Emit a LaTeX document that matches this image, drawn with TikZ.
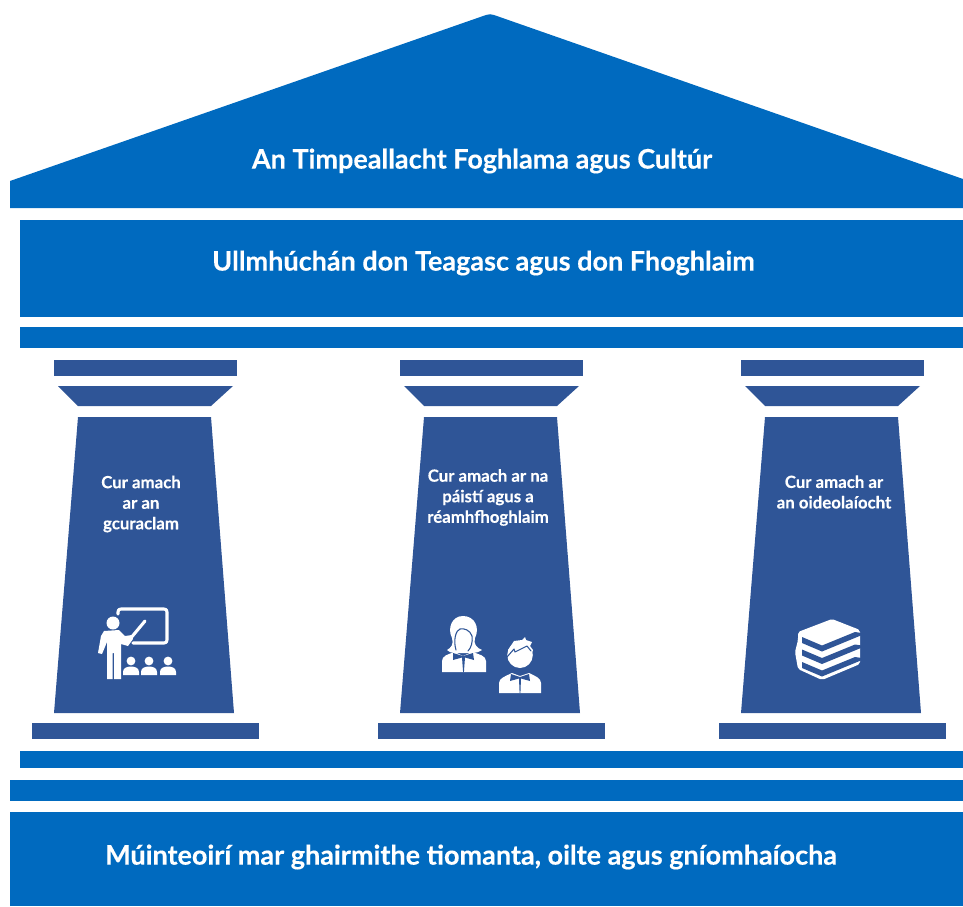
\documentclass[tikz,border=0pt]{standalone}
\usepackage{fontspec}
\setmainfont{Lato}[BoldFont={Lato Bold},BoldFeatures={FakeBold=0.25}]
\definecolor{bandblue}{HTML}{006ABF}
\definecolor{pillarblue}{HTML}{2F5597}
\tikzset{
  x=0.75pt,y=-0.75pt,
  band/.style={fill=bandblue,draw=none},
  pillar/.style={fill=pillarblue,draw=none},
  icon/.style={fill=white,draw=none},
  iconline/.style={draw=white,line width=2.3pt,line cap=round,line join=round},
  cutout/.style={fill=pillarblue,draw=none},
  cutline/.style={draw=pillarblue,line width=0.8pt,line join=round,line cap=round},
  bigtext/.style={text=white,font=\fontsize{20.25}{24}\selectfont\bfseries,inner sep=0pt},
  smalltext/.style={text=white,font=\fontsize{12.6}{15.4}\selectfont\bfseries,align=center,inner sep=0pt},
}
\newcommand{\drawcolumn}[1]{%
  \begin{scope}[shift={(#1,0)}]
    \fill[pillar] (54,360) rectangle (237,376);
    \fill[pillar] (58,386) -- (233,386) -- (211,406) -- (78,406) -- cycle;
    \fill[pillar] (78,417) -- (211,417) -- (234,713) -- (54,713) -- cycle;
    \fill[pillar] (32,723) rectangle (259,739);
  \end{scope}}
\begin{document}
\begin{tikzpicture}
\useasboundingbox (0,0) rectangle (963,906);
% roof and bands
\fill[band] (10,181) -- (486,15) .. controls (489,14) and (491,14) .. (494,15) -- (963,179) -- (963,208) -- (10,208) -- cycle;
\fill[band] (20,220) rectangle (963,317);
\fill[band] (20,327) rectangle (963,348);
\fill[band] (20,751) rectangle (963,768);
\fill[band] (10,780) rectangle (963,801);
\fill[band] (10,812) rectangle (963,906);
% columns
\drawcolumn{0}
\drawcolumn{346}
\drawcolumn{687}
% texts
\node[bigtext] (roof) at (482,161) {An Timpeallacht Foghlama agus Cultúr};
\node[bigtext] (prep) at (483.5,263) {Ullmhúchán don Teagasc agus don Fhoghlaim};
\node[bigtext] (base) at (471,857) {Múinteoirí mar ghairmithe tiomanta, oilte agus gníomhaíocha};
\node[smalltext] (c1) at (141,504) {Cur amach\\ar an\\gcuraclam};
\node[smalltext] (c2) at (488,497.5) {Cur amach ar na\\páistí agus a\\réamhfhoghlaim};
\node[smalltext] (c3) at (834,492) {Cur amach ar\\an oideolaíocht};
% teacher icon
\draw[iconline] (118,614) -- (118,612) .. controls (118,610) and (119,609) .. (121,609) -- (164,609) .. controls (166,609) and (167,610) .. (167,612) -- (167,640) .. controls (167,642) and (166,643) .. (164,643) -- (133,643);
\draw[iconline] (145,621) -- (130,639);
\fill[icon] (113,623) circle (6.5);
\fill[icon] (104,631) -- (119,630) -- (125,636) -- (132,635) -- (133,639) -- (128,646) -- (121,644) -- (121,679) -- (114,679) -- (114,653) -- (112.5,653) -- (112.5,679) -- (107,679) -- (107,642) -- (102,654) -- (98,653) -- (101,636) -- cycle;
\foreach \hx in {131,149,168}{
  \fill[icon] (\hx,661) circle (4.4);
  \fill[icon] (\hx-8,675) -- (\hx-8,672) .. controls (\hx-8,668) and (\hx-4,666.5) .. (\hx,666.5) .. controls (\hx+4,666.5) and (\hx+8,668) .. (\hx+8,672) -- (\hx+8,675) -- cycle;
}
% pupils icon: woman
\fill[icon] (447,650) .. controls (451,648) and (454,644) .. (452,638) .. controls (447,628) and (452,616) .. (463,616) .. controls (475,616) and (480,628) .. (475,638) .. controls (473,644) and (477,648) .. (482,650) .. controls (477,654) and (470,653) .. (463,653) .. controls (456,653) and (451,654) .. (447,650) -- cycle;
\draw[cutline] (456,650) .. controls (453,640) and (456,630) .. (460,629) .. controls (464,628) and (470,630) .. (472,636) .. controls (473,642) and (471,648) .. (468,651);
\fill[icon] (442,672) -- (442,661) .. controls (442,656) and (448,654) .. (455,652) -- (463,656) -- (472,652) .. controls (479,654) and (486,656) .. (486,661) -- (486,672) -- cycle;
\fill[cutout] (453,653) -- (463,656) -- (473,653) -- (474,660) -- (465,657.5) -- (463.9,672) -- (463.1,672) -- (462,657.5) -- (453,660) -- cycle;
% pupils icon: boy
\fill[icon] (520,655) ellipse (12.8 and 13);
\fill[icon] (508,650) -- (514,641) -- (522,640) -- (525,637) -- (526,640) -- (532,642) -- (530,646) -- (533,650) -- (531,656) -- cycle;
\draw[cutline] (507,657) -- (514,649) -- (515,652) -- (527,646) -- (531,651);
\fill[icon] (499,693) -- (499,683) .. controls (499,678) and (506,676) .. (512,673) -- (520,676) -- (529,673) .. controls (535,676) and (541,678) .. (541,683) -- (541,693) -- cycle;
\fill[cutout] (511,674) -- (520,677) -- (529,674) -- (530,681) -- (521,678.5) -- (520.4,693) -- (519.6,693) -- (519,678.5) -- (510,681) -- cycle;
% books icon
\fill[icon,rounded corners=1.5pt] (798,632) -- (832,619) -- (860,630) -- (860,664) -- (822,680) -- (798,669) -- (795,652) -- (798,640) -- cycle;
\foreach \dy in {0,12.5,25}{
  \fill[cutout] (802,637+\dy) -- (822,645.5+\dy) -- (855,632+\dy) -- (862,633+\dy) -- (862,635+\dy) -- (822,651.5+\dy) -- (802,643+\dy) -- cycle;
}
\end{tikzpicture}
\end{document}
